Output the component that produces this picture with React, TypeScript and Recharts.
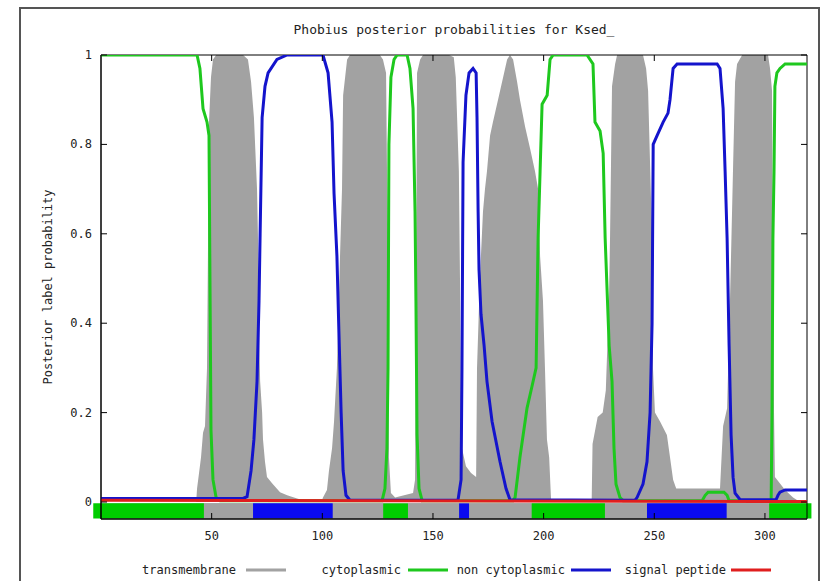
import React from 'react';
import { ComposedChart, Area, Line, XAxis, YAxis, ReferenceArea } from 'recharts';

// [residue, posterior probability] vertices
const transmembrane: [number, number][] = [
  [0, 0], [43.0, 0], [43.4, 0.03], [44.3, 0.065], [45.2, 0.1], [46.1, 0.155], [47.0, 0.17],
  [47.9, 0.3], [48.4, 0.6], [48.8, 0.85], [49.7, 0.95], [50.6, 0.99], [52.0, 1], [64.2, 1],
  [66.4, 0.99], [67.8, 0.94], [69.1, 0.86], [70.5, 0.7], [70.9, 0.6], [71.4, 0.4], [71.9, 0.27],
  [72.8, 0.2], [73.2, 0.14], [74.1, 0.09], [75.0, 0.056], [77.3, 0.042], [80.9, 0.022],
  [84.1, 0.015], [88.6, 0.008], [92.2, 0.003], [99.8, 0.003], [100.3, 0.01], [102.1, 0.027],
  [103.0, 0.07], [104.4, 0.12], [105.3, 0.18], [106.6, 0.3], [108.0, 0.55], [108.9, 0.7],
  [109.4, 0.91], [111.2, 0.99], [112.5, 1], [126.0, 1], [127.4, 0.99], [128.8, 0.96],
  [129.7, 0.5], [130.1, 0.1], [131.0, 0.02], [132.9, 0.01], [141.0, 0.02], [141.9, 0.05],
  [142.3, 0.4], [142.8, 0.96], [144.2, 0.99], [145.5, 1], [157.3, 1], [159.4, 0.995],
  [160.3, 0.95], [161.7, 0.74], [162.2, 0.5], [162.6, 0.25], [163.1, 0.12], [164.9, 0.08],
  [167.2, 0.065], [169.5, 0.056], [169.9, 0.3], [171.2, 0.5], [172.6, 0.65], [173.5, 0.7],
  [174.4, 0.74], [175.8, 0.82], [177.1, 0.85], [179.4, 0.9], [181.7, 0.95], [183.5, 0.99],
  [184.8, 1], [186.2, 0.99], [188.0, 0.94], [189.3, 0.9], [191.6, 0.84], [193.9, 0.79],
  [196.1, 0.74], [197.5, 0.7], [198.4, 0.55], [199.7, 0.45], [200.6, 0.3], [201.5, 0.14],
  [202.5, 0.1], [203.4, 0], [221.7, 0], [222.1, 0.13], [224.4, 0.19], [226.7, 0.2],
  [228.1, 0.25], [229.5, 0.45], [230.0, 0.59], [230.9, 0.93], [232.3, 0.98], [233.2, 1],
  [244.9, 1], [246.3, 0.97], [247.2, 0.92], [249.0, 0.59], [249.4, 0.3], [250.3, 0.2],
  [252.6, 0.18], [255.7, 0.15], [257.1, 0.1], [258.5, 0.05], [259.9, 0.03], [279.7, 0.03],
  [281.1, 0.17], [282.9, 0.21], [284.2, 0.45], [285.6, 0.75], [286.5, 0.94], [287.4, 0.98],
  [289.7, 1], [301.4, 1], [302.3, 0.97], [303.2, 0.92], [303.6, 0.6], [304.1, 0.2],
  [304.5, 0.056], [309.1, 0.027], [312.7, 0.01], [315.9, 0], [319, 0],
];

const cytoplasmic: [number, number][] = [
  [0, 1], [43.4, 1], [44.7, 0.97], [46.1, 0.88], [47.9, 0.85], [48.8, 0.82], [49.3, 0.45],
  [49.7, 0.16], [50.6, 0.05], [52.0, 0.01], [53.8, 0.003], [127.0, 0.003], [128.3, 0.03],
  [129.2, 0.12], [129.7, 0.3], [130.1, 0.8], [131.0, 0.95], [132.4, 0.99], [133.8, 1],
  [138.3, 1], [139.6, 0.97], [141.0, 0.88], [141.9, 0.65], [142.3, 0.45], [142.8, 0.15],
  [143.7, 0.03], [145.1, 0.003], [186.2, 0.003], [187.1, 0.01], [189.3, 0.1], [192.5, 0.21],
  [194.8, 0.26], [196.6, 0.3], [197.5, 0.59], [198.4, 0.74], [199.3, 0.89], [201.6, 0.91],
  [202.9, 0.99], [204.3, 1], [219.6, 1], [222.3, 0.98], [223.2, 0.85], [225.5, 0.83],
  [226.9, 0.78], [227.8, 0.59], [229.6, 0.35], [230.9, 0.27], [231.8, 0.12], [232.7, 0.04],
  [234.5, 0.01], [235.9, 0.003], [271.6, 0.003], [273.0, 0.015], [274.3, 0.022],
  [281.5, 0.022], [282.9, 0.015], [283.8, 0.003], [302.8, 0.003], [303.2, 0.2], [303.6, 0.59],
  [304.1, 0.74], [304.5, 0.93], [305.4, 0.96], [306.8, 0.97], [309.1, 0.98], [319, 0.98],
];

const nonCytoplasmic: [number, number][] = [
  [0, 0.008], [64.2, 0.008], [66.0, 0.012], [67.8, 0.07], [69.1, 0.14], [70.5, 0.27],
  [71.4, 0.45], [71.9, 0.6], [72.8, 0.86], [74.1, 0.93], [75.5, 0.96], [79.5, 0.99],
  [84.1, 1], [100.3, 1], [102.6, 0.96], [104.4, 0.85], [105.3, 0.69], [106.6, 0.55],
  [107.5, 0.38], [108.5, 0.2], [109.4, 0.07], [110.7, 0.015], [112.5, 0.004], [161.3, 0.004],
  [162.7, 0.05], [163.1, 0.3], [163.6, 0.76], [164.9, 0.91], [166.3, 0.96], [168.1, 0.97],
  [169.5, 0.96], [169.9, 0.86], [170.4, 0.65], [170.8, 0.52], [171.7, 0.42], [173.1, 0.35],
  [174.4, 0.27], [176.7, 0.18], [180.3, 0.09], [183.0, 0.03], [184.8, 0.005], [241.3, 0.004],
  [242.2, 0.01], [244.9, 0.04], [246.7, 0.09], [248.1, 0.2], [249.0, 0.4], [249.5, 0.8],
  [251.3, 0.82], [254.0, 0.85], [256.2, 0.87], [257.1, 0.9], [258.5, 0.97], [260.3, 0.98],
  [278.4, 0.98], [279.7, 0.97], [281.1, 0.88], [282.0, 0.74], [282.9, 0.59], [283.8, 0.35],
  [284.7, 0.15], [285.6, 0.055], [286.5, 0.02], [288.8, 0.005], [305.0, 0.005],
  [305.9, 0.015], [306.8, 0.022], [309.1, 0.027], [319, 0.027],
];

const signalPeptide: [number, number][] = [[0, 0.004], [319, 0.001]];

// predicted topology strip under the curves: [from, to] residues
const cytoSegments: [number, number][] = [[-3.5, 46.5], [127.5, 138.7], [194.6, 227.7], [301.9, 321]];
const nonCytoSegments: [number, number][] = [[68.7, 104.7], [161.8, 166.3], [246.7, 282.7]];
const tmSegments: [number, number][] = [[46.5, 68.7], [104.7, 127.5], [138.7, 161.8], [166.3, 194.6], [227.7, 246.7], [282.7, 301.9]];

const xTicks = [50, 100, 150, 200, 250, 300];
const yTicks = [0, 0.2, 0.4, 0.6, 0.8, 1];

const X_DOMAIN: [number, number] = [0, 319];
const Y_DOMAIN: [number, number] = [-0.038, 1];
const STRIP: [number, number] = [-0.037, -0.003];

const FONT = '"DejaVu Sans Mono", monospace';
const TEXT = '#222';
const GRAY = '#a2a2a2';
const GREEN = '#1ec81e';
const BLUE = '#1414cc';
const RED = '#e01e1e';

const PLOT_LEFT = 101;
const PLOT_RIGHT = 807;
const PLOT_TOP = 55;
const PLOT_BOTTOM = 519;

const series = [
  { key: 'tm', name: 'transmembrane', color: GRAY, points: transmembrane },
  { key: 'cyto', name: 'cytoplasmic', color: GREEN, points: cytoplasmic },
  { key: 'noncyto', name: 'non cytoplasmic', color: BLUE, points: nonCytoplasmic },
  { key: 'sp', name: 'signal peptide', color: RED, points: signalPeptide },
];

// one row per distinct residue position, missing values bridged with connectNulls
const xs = Array.from(new Set(series.flatMap((s) => s.points.map((p) => p[0])))).sort((a, b) => a - b);
const table = xs.map((x) => {
  const row: Record<string, number> = { x };
  series.forEach((s) => {
    const p = s.points.find((q) => q[0] === x);
    if (p) row[s.key] = p[1];
  });
  return row;
});

// legend layout: right edge of the label, start of the sample line
const legendPos = [
  { textRight: 236, lineX: 246 },
  { textRight: 401, lineX: 408 },
  { textRight: 565, lineX: 571 },
  { textRight: 726, lineX: 731 },
];

const YTick = (props: any) => {
  const { y, payload } = props;
  return (
    <g>
      <text x={PLOT_LEFT - 9} y={y} dy={4} textAnchor="end" fontFamily={FONT} fontSize={12} fill={TEXT}>
        {String(payload.value)}
      </text>
      <line x1={PLOT_LEFT} x2={PLOT_LEFT + 6} y1={y} y2={y} stroke="#000" />
      <line x1={PLOT_RIGHT} x2={PLOT_RIGHT - 6} y1={y} y2={y} stroke="#000" />
    </g>
  );
};

const XTick = (props: any) => {
  const { x, payload } = props;
  return (
    <g>
      <text x={x} y={PLOT_BOTTOM + 21} textAnchor="middle" fontFamily={FONT} fontSize={12} fill={TEXT}>
        {String(payload.value)}
      </text>
      <line x1={x} x2={x} y1={PLOT_BOTTOM} y2={PLOT_BOTTOM - 6} stroke="#000" />
      <line x1={x} x2={x} y1={PLOT_TOP} y2={PLOT_TOP + 6} stroke="#000" />
    </g>
  );
};

export default function App() {
  return (
    <div style={{ position: 'relative', width: 825, height: 581, overflow: 'hidden', background: '#fff' }}>
      <style>{'body{margin:0}'}</style>
      <div style={{ position: 'absolute', left: 19, top: 7, width: 797, height: 600, border: '2px solid #555' }} />
      <ComposedChart width={825} height={581} data={table} margin={{ top: 55, right: 18, bottom: 32, left: 41 }}>
        <XAxis
          dataKey="x"
          type="number"
          domain={X_DOMAIN}
          ticks={xTicks}
          allowDataOverflow
          height={30}
          axisLine={{ stroke: '#000' }}
          tickLine={false}
          tick={XTick}
        />
        <YAxis
          type="number"
          domain={Y_DOMAIN}
          ticks={yTicks}
          allowDataOverflow
          width={60}
          axisLine={{ stroke: '#000' }}
          tickLine={false}
          tick={YTick}
        />
        <Area
          dataKey="tm"
          type="linear"
          fill={GRAY}
          fillOpacity={1}
          stroke="none"
          connectNulls
          isAnimationActive={false}
        />
        {series.slice(1).map((s) => (
          <Line
            key={s.key}
            dataKey={s.key}
            type="linear"
            stroke={s.color}
            strokeWidth={3}
            dot={false}
            activeDot={false}
            connectNulls
            isAnimationActive={false}
          />
        ))}
        <ReferenceArea x1={X_DOMAIN[0]} x2={X_DOMAIN[1]} y1={STRIP[0]} y2={STRIP[1]} fill={GRAY} fillOpacity={1} stroke="none" ifOverflow="visible" />
        {tmSegments.map((s, i) => (
          <ReferenceArea key={'t' + i} x1={s[0]} x2={s[1]} y1={STRIP[0]} y2={STRIP[1]} fill={GRAY} fillOpacity={1} stroke="none" ifOverflow="visible" />
        ))}
        {cytoSegments.map((s, i) => (
          <ReferenceArea key={'c' + i} x1={s[0]} x2={s[1]} y1={STRIP[0]} y2={STRIP[1]} fill="#00cc00" fillOpacity={1} stroke="none" ifOverflow="visible" />
        ))}
        {nonCytoSegments.map((s, i) => (
          <ReferenceArea key={'n' + i} x1={s[0]} x2={s[1]} y1={STRIP[0]} y2={STRIP[1]} fill="#0a0af0" fillOpacity={1} stroke="none" ifOverflow="visible" />
        ))}
        <ReferenceArea x1={X_DOMAIN[0]} x2={X_DOMAIN[1]} y1={Y_DOMAIN[0]} y2={Y_DOMAIN[1]} fill="none" stroke="#000" strokeWidth={1} ifOverflow="visible" />
      </ComposedChart>
      <svg width={825} height={581} style={{ position: 'absolute', left: 0, top: 0, pointerEvents: 'none' }}>
        <text x={(PLOT_LEFT + PLOT_RIGHT) / 2} y={34} textAnchor="middle" fontFamily={FONT} fontSize={13} fill={TEXT}>
          Phobius posterior probabilities for Ksed_
        </text>
        <text
          x={52}
          y={(PLOT_TOP + PLOT_BOTTOM) / 2}
          transform={`rotate(-90 52 ${(PLOT_TOP + PLOT_BOTTOM) / 2})`}
          textAnchor="middle"
          fontFamily={FONT}
          fontSize={12}
          fill={TEXT}
        >
          Posterior label probability
        </text>
        {series.map((s, i) => (
          <g key={s.key}>
            <text x={legendPos[i].textRight} y={574} textAnchor="end" fontFamily={FONT} fontSize={12} fill={TEXT}>
              {s.name}
            </text>
            <line x1={legendPos[i].lineX} x2={legendPos[i].lineX + 40} y1={570} y2={570} stroke={s.color} strokeWidth={3} />
          </g>
        ))}
      </svg>
    </div>
  );
}
